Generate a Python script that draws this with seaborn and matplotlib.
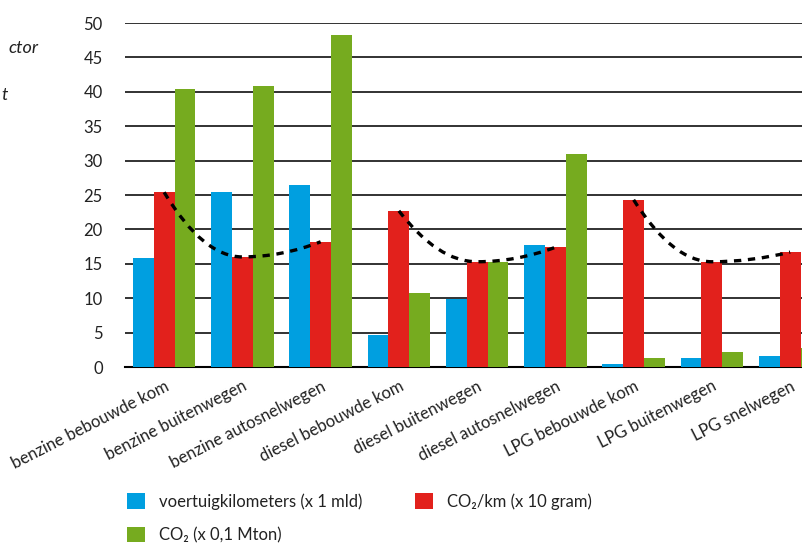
import matplotlib
matplotlib.use("Agg")
import matplotlib.pyplot as plt
import numpy as np
import pandas as pd
import seaborn as sns
from matplotlib.patches import Patch, PathPatch
from matplotlib.path import Path

categories = [
    "benzine bebouwde kom", "benzine buitenwegen", "benzine autosnelwegen",
    "diesel bebouwde kom", "diesel buitenwegen", "diesel autosnelwegen",
    "LPG bebouwde kom", "LPG buitenwegen", "LPG snelwegen",
]
voertuigkm = [15.8, 25.4, 26.5, 4.6, 9.9, 17.7, 0.4, 1.3, 1.6]
co2_per_km = [25.4, 16.0, 18.2, 22.7, 15.3, 17.4, 24.3, 15.3, 16.7]
co2_totaal = [40.4, 40.8, 48.3, 10.8, 15.3, 31.0, 1.3, 2.2, 2.7]

series_names = ["voertuigkilometers (x 1 mld)", "CO₂/km (x 10 gram)", "CO₂ (x 0,1 Mton)"]
colors = ["#009fe0", "#e2211c", "#76ab1f"]
fuel_groups = [(0, 3), (3, 6), (6, 9)]

df = pd.DataFrame({
    "categorie": categories * 3,
    "reeks": np.repeat(series_names, len(categories)),
    "waarde": voertuigkm + co2_per_km + co2_totaal,
})


def smooth_path(xs, ys):
    # monotone cubic (like a smoothed line in a spreadsheet chart)
    xs = np.asarray(xs, float)
    ys = np.asarray(ys, float)
    h = np.diff(xs)
    delta = np.diff(ys) / h
    d = np.zeros(len(xs))
    for i in range(1, len(xs) - 1):
        if delta[i - 1] * delta[i] > 0:
            d[i] = 2 / (1 / delta[i - 1] + 1 / delta[i])
    d[0] = 2 * delta[0] - d[1]
    d[-1] = 2 * delta[-1] - d[-2]
    verts = [(xs[0], ys[0])]
    codes = [Path.MOVETO]
    for i in range(len(xs) - 1):
        verts += [(xs[i] + h[i] / 3, ys[i] + d[i] * h[i] / 3),
                  (xs[i + 1] - h[i] / 3, ys[i + 1] - d[i + 1] * h[i] / 3),
                  (xs[i + 1], ys[i + 1])]
        codes += [Path.CURVE4] * 3
    return Path(verts, codes)


sns.set_style("white")
plt.rcParams["font.family"] = ["Lato", "DejaVu Sans"]

fig = plt.figure(figsize=(8.02, 5.46), dpi=100)
ax = fig.add_axes([125 / 802, 179 / 546, 704.25 / 802, 344 / 546])

sns.barplot(data=df, x="categorie", y="waarde", hue="reeks", palette=colors,
            saturation=1, width=0.8, legend=False, ax=ax, zorder=3,
            edgecolor="none", linewidth=0)

for start, stop in fuel_groups:
    xs = list(range(start, stop))
    path = smooth_path(xs, co2_per_km[start:stop])
    ax.add_patch(PathPatch(path, fill=False, edgecolor="black", lw=2.4,
                           linestyle=(0, (2.2, 2.0)), zorder=5))

ax.set_xlim(-0.5, 8.5)
ax.set_ylim(0, 50)
ax.set_xlabel("")
ax.set_ylabel("")
ax.set_axisbelow(True)
ax.yaxis.grid(True, color="#222222", lw=1.3)
ax.xaxis.grid(False)
for side in ["top", "right", "left"]:
    ax.spines[side].set_visible(False)
ax.spines["bottom"].set_color("black")
ax.spines["bottom"].set_linewidth(1.5)

ax.set_yticks(range(0, 51, 5))
ax.tick_params(axis="y", length=0, pad=16, labelsize=12, labelcolor="#222222")
ax.set_xticks(range(len(categories)))
ax.set_xticklabels(categories, rotation=27, ha="right", rotation_mode="anchor",
                   fontsize=12, color="#222222")
ax.tick_params(axis="x", which="major", length=0, pad=8)
ax.set_xticks(np.arange(-0.5, len(categories), 1), minor=True)
ax.tick_params(axis="x", which="minor", direction="in", length=6, width=1.5, color="#555555")

# legend: blue and green in the first column, red in the second
order = [0, 2, 1]
handles = [Patch(facecolor=colors[i], edgecolor="none") for i in order]
fig.legend(handles, [series_names[i] for i in order], ncol=2, loc="upper left",
           bbox_to_anchor=(119 / 802, 1 - 485 / 546), frameon=False,
           fontsize=12, handlelength=1.08, handleheight=1.08, handletextpad=0.8,
           labelspacing=1.0, columnspacing=3.2, borderpad=0, labelcolor="#222222")

fig.text(38 / 802, 1 - 53 / 546, "ctor", ha="right", va="baseline",
         style="italic", fontsize=13, color="#222222")
fig.text(8 / 802, 1 - 100 / 546, "t", ha="right", va="baseline",
         style="italic", fontsize=13, color="#222222")

fig.savefig("out.png", dpi=100)
